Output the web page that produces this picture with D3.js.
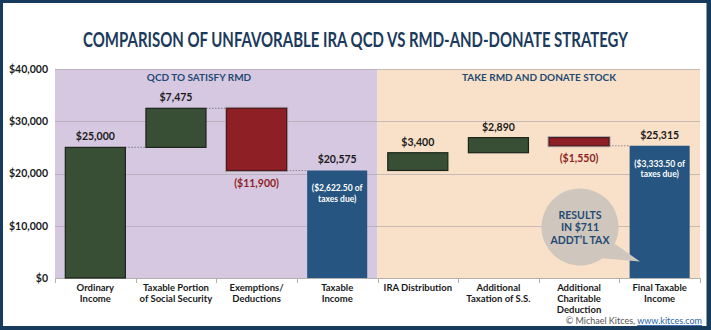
<!DOCTYPE html>
<html>
<head>
<meta charset="utf-8">
<script src="https://cdn.jsdelivr.net/npm/d3@7"></script>
<style>
html,body{margin:0;padding:0;background:#fff;}
svg{display:block;}
text{font-family:"Lato","Noto Sans","DejaVu Sans",sans-serif;}
</style>
</head>
<body>
<svg id="chart" width="711" height="330"></svg>
<script>
// ---- data ----
const categories = ["Ordinary Income","Taxable Portion of Social Security","Exemptions/ Deductions","Taxable Income","IRA Distribution","Additional Taxation of S.S.","Additional Charitable Deduction","Final Taxable Income"];
const categoryLines = [["Ordinary","Income"],["Taxable Portion","of Social Security"],["Exemptions/","Deductions"],["Taxable","Income"],["IRA Distribution"],["Additional","Taxation of S.S."],["Additional","Charitable","Deduction"],["Final Taxable","Income"]];
const values = [25000, 7475, -11900, 20575, 3400, 2890, -1550, 25315];
const barKinds = ["total","delta","delta","total","delta","delta","delta","total"];
const valueLabels = ["$25,000","$7,475","($11,900)","$20,575","$3,400","$2,890","($1,550)","$25,315"];
const taxNotes = [null,null,null,["($2,622.50 of","taxes due)"],null,null,null,["($3,333.50 of","taxes due)"]];
const connectorShown = [true,true,true,false,false,false,true];
const yTicks = [0,10000,20000,30000,40000];
const panelNames = ["QCD TO SATISFY RMD","TAKE RMD AND DONATE STOCK"];
const panelFirst = [0,4];
const panelLast = [3,7];
const calloutLines = ["RESULTS","IN $711","ADDT\u2019L TAX"];
const title = "COMPARISON OF UNFAVORABLE IRA QCD VS RMD-AND-DONATE STRATEGY";

// ---- layout ----
const W = 711, H = 330;
const svg = d3.select("#chart");
const navy = "#173b5c";
svg.append("rect").attr("width",W).attr("height",H).attr("fill",navy);
svg.append("rect").attr("x",3).attr("y",3).attr("width",W-7.5).attr("height",H-7).attr("fill","#fff");

const x = d3.scaleBand().domain(categories).range([55,700]).paddingInner(0.255).paddingOuter(0.128);
const bandW = (700-55)/categories.length;
const bandStart = i => 55 + i*bandW;
const y = d3.scaleLinear().domain([0,40000]).range([278,69]);

// compute waterfall
let running = 0;
const bars = values.map((v,i)=>{
  let base, top;
  if (barKinds[i]==="total"){ base=0; top=v; running=v; }
  else { base=running; top=running+v; running=top; }
  return {cat:categories[i], v, lo:Math.min(base,top), hi:Math.max(base,top), end:top, kind:barKinds[i], i};
});

// panels
const panelFill = ["#d7c8e2","#f8e1c8"];
panelNames.forEach((p,k)=>{
  const x0 = k===0 ? 55 : bandStart(panelFirst[k]);
  const x1 = k===0 ? bandStart(panelLast[k]+1) : 700;
  svg.append("rect").attr("x",x0).attr("y",y(40000)).attr("width",x1-x0).attr("height",y(0)-y(40000)).attr("fill",panelFill[k]);
});

// gridlines
svg.append("g").selectAll("line").data(yTicks.filter(t=>t>0)).join("line")
  .attr("x1",55).attr("x2",700).attr("y1",d=>Math.round(y(d))+0.5).attr("y2",d=>Math.round(y(d))+0.5)
  .attr("stroke","#a79fa6").attr("stroke-opacity",0.6).attr("stroke-width",1);

// y axis labels
const yAxis = d3.axisLeft(y).tickValues(yTicks).tickFormat(d=>"$"+d3.format(",")(d)).tickSize(0).tickPadding(0);
const ga = svg.append("g").attr("transform","translate(48,0)").call(yAxis);
ga.select(".domain").remove();
ga.selectAll("text").attr("font-size",10.5).attr("font-weight","bold").attr("fill","#1a1a1a").attr("font-family","Lato, sans-serif");

// x axis line and ticks
svg.append("line").attr("x1",55).attr("x2",700).attr("y1",278.5).attr("y2",278.5).attr("stroke","#b5b0b0").attr("stroke-width",1);
svg.append("g").selectAll("line").data(d3.range(categories.length+1)).join("line")
  .attr("x1",i=>Math.round(bandStart(i))+0.5).attr("x2",i=>Math.round(bandStart(i))+0.5)
  .attr("y1",278).attr("y2",283).attr("stroke","#b5b0b0");

// panel titles
const panelTitleX = [199, 539];
panelNames.forEach((p,k)=>{
  svg.append("text").attr("x",panelTitleX[k]).attr("y",80.5).attr("text-anchor","middle")
    .attr("font-size",10).attr("font-weight","bold").attr("fill","#1f4a73").text(p);
});

// connectors
bars.slice(0,-1).forEach((b,i)=>{
  if(!connectorShown[i]) return;
  const lv = b.end;
  svg.append("line")
    .attr("x1",x(b.cat)+x.bandwidth()).attr("x2",x(categories[i+1]))
    .attr("y1",y(lv)).attr("y2",y(lv))
    .attr("stroke","#8d8890").attr("stroke-width",1.2).attr("stroke-dasharray","1.5,1.5");
});

// bars
const fillFor = b => b.kind==="total" && b.i>0 ? "#255580" : (b.v<0 ? "#8e1f25" : "#384e35");
const strokeFor = b => b.kind==="total" && b.i>0 ? "none" : (b.v<0 ? "#4a1a1d" : "#1b2519");
svg.append("g").selectAll("rect.glow").data(bars.filter(b=>b.v<0)).join("rect")
  .attr("x",b=>x(b.cat)-1).attr("width",x.bandwidth()+2)
  .attr("y",b=>y(b.hi)-1).attr("height",b=>y(b.lo)-y(b.hi)+2)
  .attr("fill","none").attr("stroke","#aaa4ab").attr("stroke-width",1);
svg.append("g").selectAll("rect.bar").data(bars).join("rect")
  .attr("x",b=>x(b.cat)).attr("width",x.bandwidth())
  .attr("y",b=>y(b.hi)).attr("height",b=>y(b.lo)-y(b.hi))
  .attr("fill",fillFor).attr("stroke",strokeFor).attr("stroke-width",1.2);

// value labels
svg.append("g").selectAll("text").data(bars).join("text")
  .attr("x",b=>x(b.cat)+x.bandwidth()/2)
  .attr("y",b=> b.v<0 ? y(b.lo)+16.5 : y(b.hi)-7)
  .attr("text-anchor","middle").attr("font-size",10.5).attr("font-weight","bold")
  .attr("fill",b=>b.v<0 ? "#8e1f25" : "#1a1a1a")
  .text(b=>valueLabels[b.i]);

// tax notes inside blue bars
bars.forEach(b=>{
  const n = taxNotes[b.i];
  if(!n) return;
  const t = svg.append("text").attr("text-anchor","middle").attr("font-size",8.5).attr("font-weight","bold").attr("fill","#fff");
  n.forEach((line,j)=>{
    t.append("tspan").attr("x",x(b.cat)+x.bandwidth()/2).attr("y",y(b.hi)+21+j*10.5).text(line);
  });
});

// x labels
categories.forEach((c,i)=>{
  const t = svg.append("text").attr("text-anchor","middle").attr("font-size",9.5).attr("font-weight","bold").attr("fill","#1a1a1a");
  categoryLines[i].forEach((line,j)=>{
    t.append("tspan").attr("x",x(c)+x.bandwidth()/2).attr("y",290.5+j*11.4).text(line);
  });
});

// callout bubble
const cx=580, cy=227, r=38.5;
const bubble = d3.path();
bubble.moveTo(cx+r*Math.cos(0.45), cy+r*Math.sin(0.45));
bubble.lineTo(640,261.5);
bubble.lineTo(cx+r*Math.cos(0.95), cy+r*Math.sin(0.95));
bubble.arc(cx,cy,r,0.95,0.45+2*Math.PI,false);
bubble.closePath();
svg.append("path").attr("d",bubble.toString()).attr("fill","#cfc6bd");
const ct = svg.append("text").attr("text-anchor","middle").attr("font-size",10.5).attr("font-weight","bold").attr("fill","#1f4a73");
calloutLines.forEach((l,j)=>ct.append("tspan").attr("x",cx).attr("y",218.5+j*12.6).text(l));

// title (condensed by horizontal scale to the reference width)
const tg = svg.append("g");
const tt = tg.append("text").attr("x",0).attr("y",0).attr("text-anchor","middle")
  .attr("font-size",20).attr("font-weight","bold").attr("fill","#1b3a5c").text(title);
const natural = tt.node().getComputedTextLength();
const sx = Math.min(1, 545/natural);
tg.attr("transform",`translate(355.5,47) scale(${sx},1)`);

// footer
const ft = svg.append("text").attr("x",702).attr("y",324).attr("text-anchor","end").attr("font-size",9).attr("fill","#555");
ft.append("tspan").text("\u00A9 Michael Kitces, ");
ft.append("tspan").attr("fill","#2a5fa8").attr("text-decoration","underline").text("www.kitces.com");
</script>
</body>
</html>
